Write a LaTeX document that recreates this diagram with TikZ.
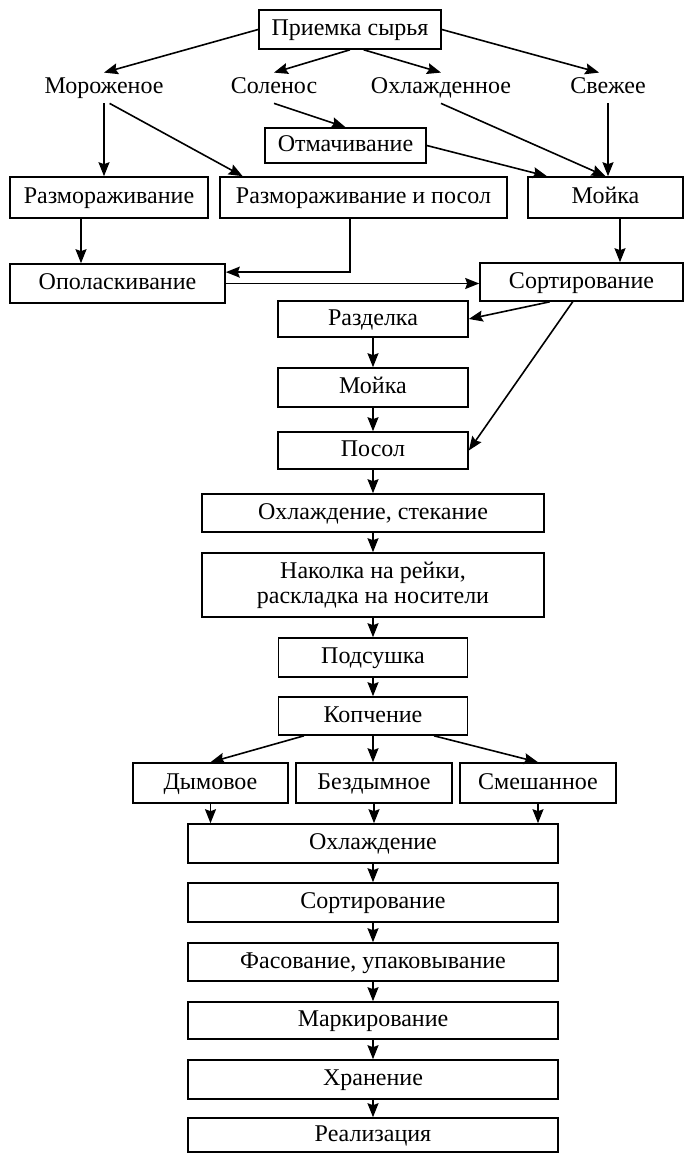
\documentclass[tikz,border=0pt]{standalone}
\usepackage{fontspec}
\setmainfont{Liberation Serif}
\usetikzlibrary{arrows.meta}
\tikzset{
  stage/.style={draw, line width=0.8pt, inner sep=0pt, align=center,
    font=\fontsize{12pt}{12.5pt}\selectfont},
  oneline/.style={text height=8.5pt, text depth=2.5pt},
  kind/.style={inner sep=2pt, oneline, font=\fontsize{12pt}{12.5pt}\selectfont},
  flow/.style={line width=0.8pt, -{Stealth[length=7pt, width=5.5pt, inset=1pt]}}
}
\newcommand{\stage}[6]{% name, x, y, width, height, text
  \node[stage, oneline, minimum width=#4*0.5pt, minimum height=#5*0.5pt] (#1) at (#2,#3) {#6};
}

\begin{document}
\begin{tikzpicture}[x=0.5pt, y=-0.5pt]

\useasboundingbox (0,0) rectangle (686,1155);

% Intake and kinds of raw fish
\stage{priem}{350}{29.5}{182}{39}{Приемка сырья}
\node[kind] (frozen)  at (104,88) {Мороженое};
\node[kind] (salted)  at (274,88) {Соленос};
\node[kind] (chilled) at (441,88) {Охлажденное};
\node[kind] (fresh)   at (608,88) {Свежее};

% Preparation
\stage{soak}{345.5}{145.5}{161}{35}{Отмачивание}
\stage{thaw}{109}{197.5}{198}{41}{Размораживание}
\stage{thawsalt}{363.5}{197.5}{287}{41}{Размораживание и посол}
\stage{washA}{605.5}{197.5}{155}{41}{Мойка}
\stage{rinse}{117.5}{283.5}{215}{39}{Ополаскивание}
\stage{sortA}{581.5}{282}{203}{38}{Сортирование}

% Main line
\stage{cut}{373}{319}{190}{36}{Разделка}
\stage{washB}{373}{387.5}{190}{39}{Мойка}
\stage{salt}{373}{450.5}{190}{37}{Посол}
\stage{coolA}{373}{513}{342}{38}{Охлаждение, стекание}
\node[stage, minimum width=171pt, minimum height=32pt] (hang) at (373,585)
  {Наколка на рейки,\\раскладка на носители};
\stage{dry}{373}{657.5}{189}{39}{Подсушка}
\stage{smoke}{373}{716}{189}{38}{Копчение}
\stage{smoky}{210.5}{783}{155}{40}{Дымовое}
\stage{smokeless}{374}{783}{156}{40}{Бездымное}
\stage{mixed}{538}{783}{156}{40}{Смешанное}
\stage{coolB}{373}{843.5}{370}{39}{Охлаждение}
\stage{sortB}{373}{902.5}{370}{39}{Сортирование}
\stage{pack}{373}{962}{370}{38}{Фасование, упаковывание}
\stage{mark}{373}{1020.5}{370}{37}{Маркирование}
\stage{store}{373}{1079.5}{370}{39}{Хранение}
\stage{sale}{373}{1135}{370}{34}{Реализация}

% Arrows from intake
\draw[flow] (priem.west) -- (frozen.north);
\draw[flow] (priem.south) -- (salted.north);
\draw[flow] (priem.-56) -- (chilled.north);
\draw[flow] (priem.east) -- (fresh.120);

% Arrows of the preparation
\draw[flow] (frozen.south) -- (frozen.south |- thaw.north);
\draw[flow] (frozen.-70) -- (thawsalt.170);
\draw[flow] (salted.south) -- (soak.north);
\draw[flow] (soak.east) -- (washA.160);
\draw[flow] (chilled.south) -- (washA.north);
\draw[flow] (fresh.south) -- (fresh.south |- washA.north);
\draw[flow] ([xshift=-14pt]thaw.south) -- ([xshift=-14pt]thaw.south |- rinse.north);
\draw[flow] ([xshift=-6.75pt]thawsalt.south) |- (rinse.6);
\draw[flow] (rinse.east) -- (rinse.east -| sortA.west);
\draw[flow] ([xshift=7.25pt]washA.south) -- ([xshift=7.25pt]washA.south |- sortA.north);
\draw[flow] (sortA.212) -- (cut.east);
\draw[flow] (sortA.246) -- (salt.east);

% Main line arrows
\foreach \a/\b in {cut/washB, washB/salt, salt/coolA, coolA/hang, hang/dry, dry/smoke,
  coolB/sortB, sortB/pack, pack/mark, mark/store, store/sale}
  \draw[flow] (\a.south) -- (\b.north);

% Kinds of smoking
\draw[flow] (smoke.196) -- (smoky.north);
\draw[flow] (smoke.south) -- (smoke.south |- smokeless.north);
\draw[flow] (smoke.-18) -- (mixed.north);
\foreach \k in {smoky, smokeless, mixed}
  \draw[flow] (\k.south) -- (\k.south |- coolB.north);

\end{tikzpicture}
\end{document}
